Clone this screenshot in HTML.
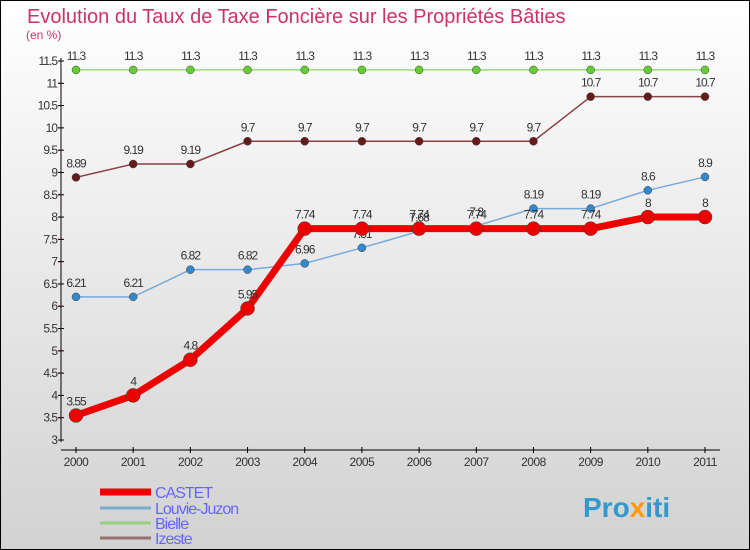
<!DOCTYPE html>
<html><head><meta charset="utf-8"><style>
body{margin:0}
svg{display:block;font-family:"Liberation Sans",sans-serif}
</style></head><body>
<svg id="chart" width="750" height="550" viewBox="0 0 750 550">
<defs><linearGradient id="bg" x1="0" y1="0" x2="0" y2="1"><stop offset="0" stop-color="#ffffff"/><stop offset="1" stop-color="#d2d2d2"/></linearGradient></defs>
<rect x="0.5" y="0.5" width="749" height="549" fill="url(#bg)" stroke="#000"/>
<text x="27" y="23" font-size="20" fill="#cc3366">Evolution du Taux de Taxe Foncière sur les Propriétés Bâties</text>
<text x="26" y="39" font-size="12" fill="#cc3366">(en %)</text>
<g id="axes"></g>
<g id="series"></g>
<g id="legend"></g>
<text x="583" y="517" font-size="28" font-weight="bold" fill="#3399cc">Pro<tspan fill="#ff9900">x</tspan>iti</text>
</svg>
<script>
const years=[2000,2001,2002,2003,2004,2005,2006,2007,2008,2009,2010,2011];
const castet=[3.55,4,4.8,5.95,7.74,7.74,7.74,7.74,7.74,7.74,8,8];
const louvie=[6.21,6.21,6.82,6.82,6.96,7.31,7.68,7.8,8.19,8.19,8.6,8.9];
const bielle=[11.3,11.3,11.3,11.3,11.3,11.3,11.3,11.3,11.3,11.3,11.3,11.3];
const izeste=[8.89,9.19,9.19,9.7,9.7,9.7,9.7,9.7,9.7,10.7,10.7,10.7];
const yTicks=[3,3.5,4,4.5,5,5.5,6,6.5,7,7.5,8,8.5,9,9.5,10,10.5,11,11.5];
const NS="http://www.w3.org/2000/svg";
function xs(i){return 76+i*(705-76)/(years.length-1);}
function ys(v){return 440-(v-3)*(440-61)/8.5;}
function mk(tag,attrs,parent,txt){const e=document.createElementNS(NS,tag);for(const k in attrs)e.setAttribute(k,attrs[k]);if(txt!==undefined)e.textContent=txt;parent.appendChild(e);return e;}
const ax=document.getElementById('axes');
let yl=mk('line',{x1:61,y1:58,x2:61,y2:442,stroke:'#000'},ax);


let xl=mk('line',{x1:61,y1:450,x2:720,y2:450,stroke:'#000'},ax);


yTicks.forEach(v=>{const y=ys(v);
 mk('line',{x1:58,y1:y,x2:64,y2:y,stroke:'#000'},ax);
 const t=mk('text',{x:57,y:y+4,'font-size':12,fill:'#333','text-anchor':'end','letter-spacing':'-1'},ax,String(v));
 
 
 if(v<11.5)mk('line',{x1:58,y1:y-22.3,x2:61,y2:y-22.3,stroke:'#e00'},ax);
});
years.forEach((yr,i)=>{const x=xs(i);
 mk('line',{x1:x,y1:447,x2:x,y2:453,stroke:'#000'},ax);
 const t=mk('text',{x:x,y:466,'font-size':12,fill:'#333','text-anchor':'middle','letter-spacing':'-0.5'},ax,String(yr));
 
 
});
const sg=document.getElementById('series');
function series(name,data,color,dot,w,r,lblColor){
 const g=mk('g',{},sg);
 
 
 const p=mk('polyline',{points:data.map((v,i)=>xs(i)+','+ys(v)).join(' '),fill:'none',stroke:color,'stroke-width':w,'stroke-linejoin':'round'},g);
 
 
 data.forEach((v,i)=>{
  const c=mk('circle',{cx:xs(i),cy:ys(v),r:r,fill:dot,stroke:'#444','stroke-width':0.5},g);
  
  
  const t=mk('text',{x:xs(i),y:ys(v)-10,'font-size':12,fill:'#333','text-anchor':'middle','letter-spacing':'-1'},g,String(v));
  
  
 });
}
series('bielle',bielle,'#99dd77','#66cc33',1.5,4);
series('izeste',izeste,'#884444','#661a1a',1.5,4);
series('louvie',louvie,'#77aadd','#3388cc',1.5,4);
series('castet',castet,'#ee0000','#ee0000',7,7);
const lg=document.getElementById('legend');
const leg=[['CASTET','#ee0000',7,492],['Louvie-Juzon','#7aaccc',3,508],['Bielle','#99d080',3,523],['Izeste','#997070',3,538]];
leg.forEach(l=>{
 const g=mk('g',{},lg);
 
 
 mk('line',{x1:100,y1:l[3],x2:151,y2:l[3],stroke:l[1],'stroke-width':l[2]},g);
 mk('text',{x:155,y:l[3]+6,'font-size':16,fill:'#6666ff','letter-spacing':'-1'},g,l[0]);
});
</script>
</body></html>
